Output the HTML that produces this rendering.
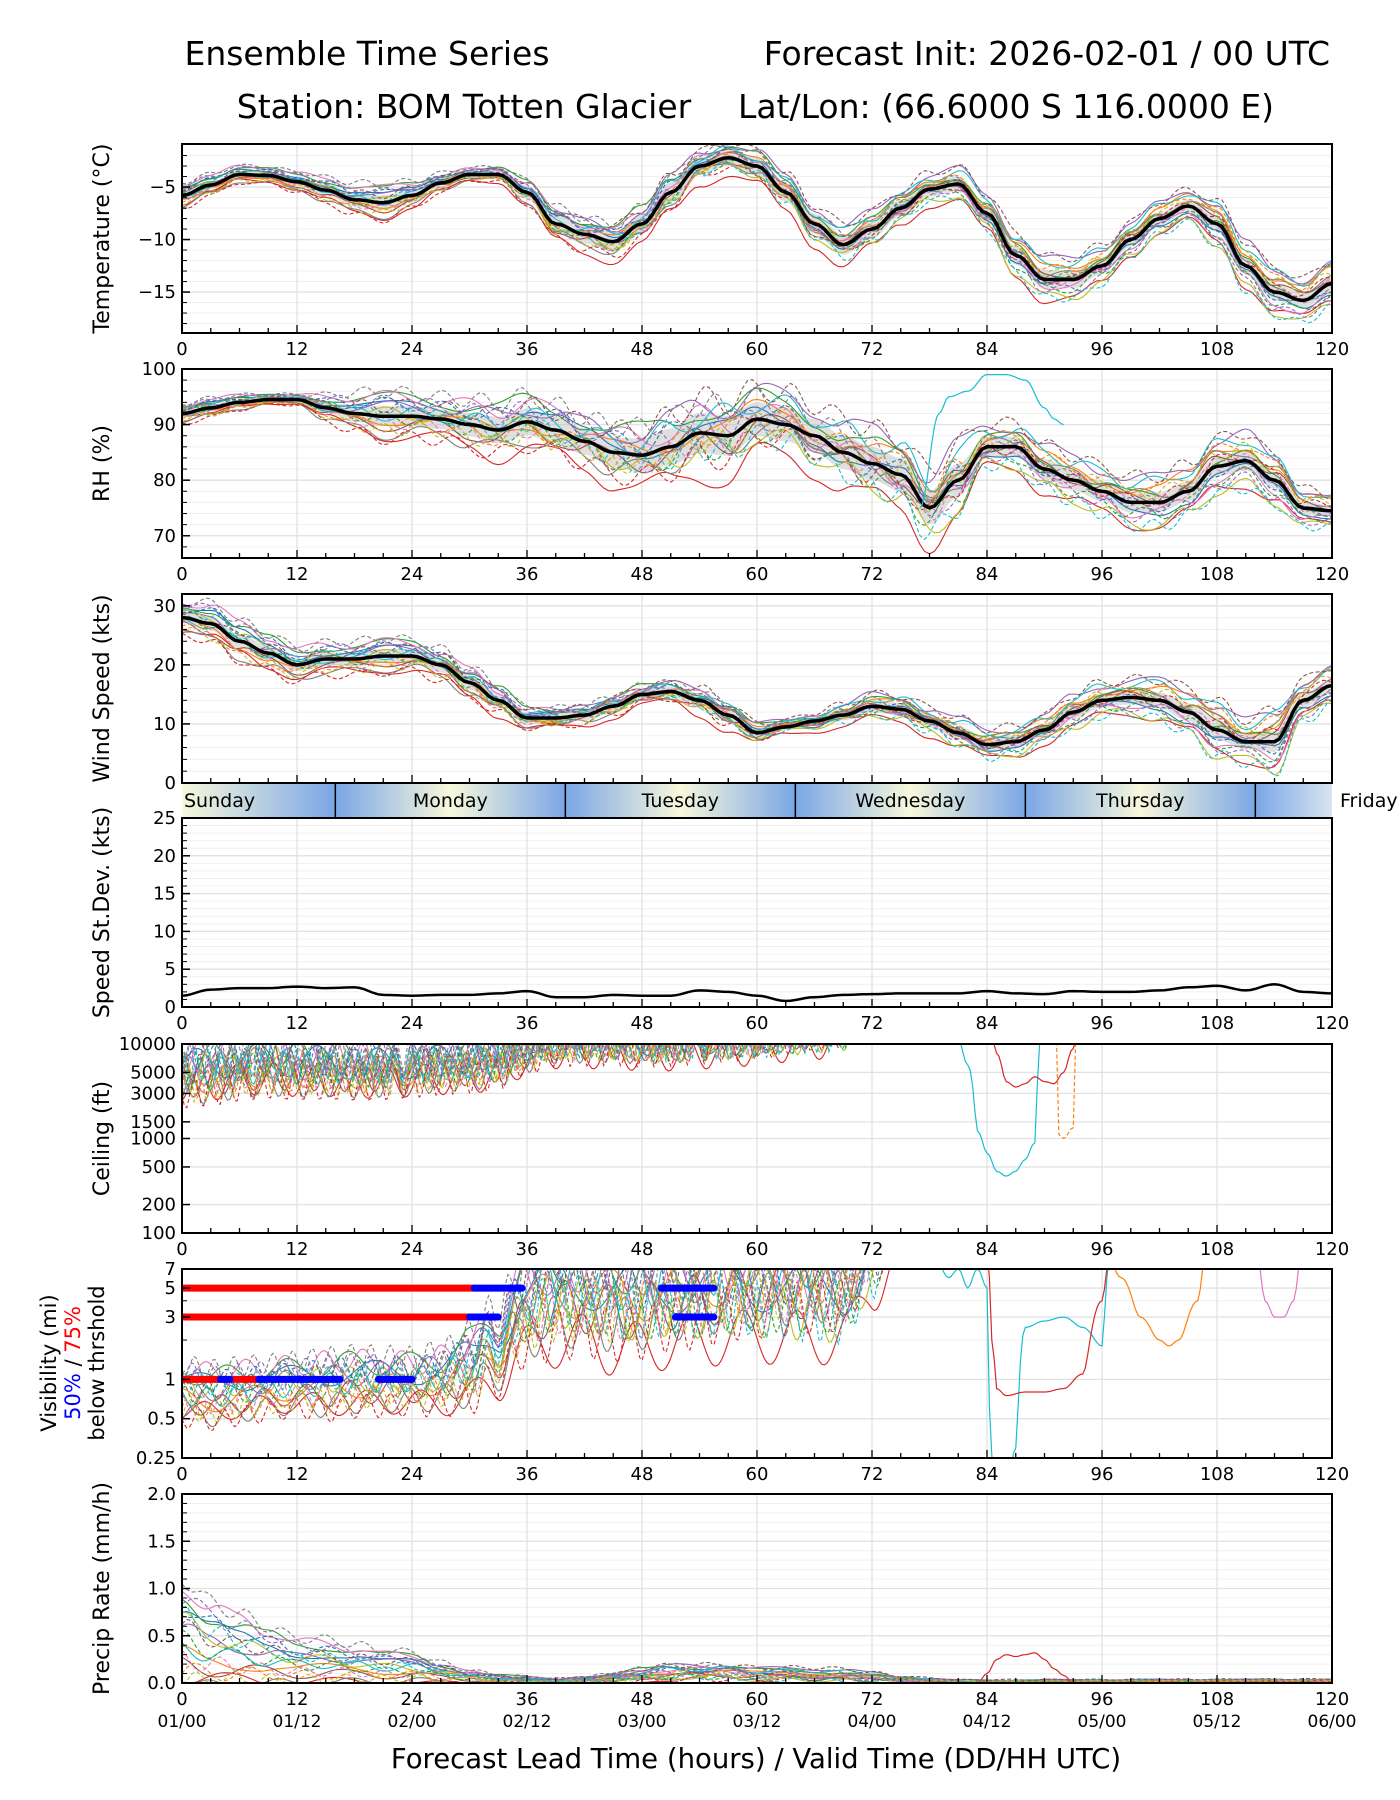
<!DOCTYPE html>
<html><head><meta charset="utf-8"><style>
body{margin:0;background:#fff;}
svg{display:block;font-family:"DejaVu Sans","Liberation Sans",sans-serif;}
</style></head><body>
<svg id="c" width="1400" height="1800" viewBox="0 0 1400 1800">
<defs>
<linearGradient id="seg" x1="0" x2="1" y1="0" y2="0"><stop offset="0" stop-color="#7aa6e6"/><stop offset="0.5" stop-color="#f8f8dc"/><stop offset="1" stop-color="#7aa6e6"/></linearGradient>
<linearGradient id="seg0" x1="0" x2="1" y1="0" y2="0"><stop offset="0" stop-color="#f8f8dc"/><stop offset="1" stop-color="#7aa6e6"/></linearGradient>
<linearGradient id="segL" x1="0" x2="1" y1="0" y2="0"><stop offset="0" stop-color="#7aa6e6"/><stop offset="1" stop-color="#d8e4f0"/></linearGradient>
</defs>
<text x="367" y="65" font-size="33" text-anchor="middle">Ensemble Time Series</text>
<text x="1330" y="65" font-size="33" text-anchor="end">Forecast Init: 2026-02-01 / 00 UTC</text>
<text x="464" y="118" font-size="33" text-anchor="middle">Station: BOM Totten Glacier</text>
<text x="1006" y="118" font-size="33" text-anchor="middle">Lat/Lon: (66.6000 S 116.0000 E)</text>
<text x="756" y="1768" font-size="27.5" text-anchor="middle">Forecast Lead Time (hours) / Valid Time (DD/HH UTC)</text>
</svg>
<script>
// ---- data (3-hourly, 0..120 h) ----
const hours3 = [0,3,6,9,12,15,18,21,24,27,30,33,36,39,42,45,48,51,54,57,60,63,66,69,72,75,78,81,84,87,90,93,96,99,102,105,108,111,114,117,120];
const tempMean = [-5.8,-4.8,-3.8,-3.9,-4.5,-5.3,-6.2,-6.5,-5.8,-4.6,-3.8,-3.8,-5.5,-8.5,-9.5,-10.2,-8.5,-5.5,-3.0,-2.2,-3.0,-5.5,-8.5,-10.5,-9.0,-7.0,-5.2,-4.7,-7.5,-11.5,-13.8,-13.8,-12.5,-10.0,-8.0,-6.8,-8.5,-12.5,-15.0,-15.8,-14.2];
const tempSpread = [0.7,0.6,0.5,0.5,0.6,0.8,1.1,1.2,1.0,0.7,0.5,0.6,1.0,1.4,1.5,1.5,1.6,1.6,1.4,1.3,1.4,1.5,1.6,1.6,1.4,1.3,1.2,1.2,1.4,1.5,1.5,1.4,1.3,1.1,1.0,1.0,1.3,1.4,1.3,1.2,1.2];
const rhMean = [92,93,94,94.5,94.5,93,92,91.5,91.5,91,90,89,90.5,89,87,85,84.5,86,88.5,88,91,90,88,85,83,81,75,80,86,86,82,80,78,76,76,78,82.5,83.5,80,75,74.5];
const rhSpread = [1.0,1.0,0.8,0.6,0.6,1.5,2.5,3,3,3,3.5,4,4,4,4,4.5,5,5.5,6,6,5,5,5,5,5,5,5,5,3,3,3,3,3,3,3,3,3,3,2.5,2,1.5];
const windMean = [28,27,24,22,20,21,21,21.5,21.5,20,17,14,11,11,11.5,13,15,15.5,14,11.5,8.5,9.5,10.5,11.5,13,12.5,10.5,8.5,6.5,7,9,12,14,14.5,14,12,9,7,7,14,16.5];
const windSpread = [1.5,2,2,2,1.8,1.8,2,2,2,2,2,2,1.5,1.5,1.5,1.5,1.5,1.5,2,2,1.5,1,1.3,1.5,1.7,1.8,1.8,1.8,2,1.8,1.7,2,2,2,2.2,2.5,2.8,2.2,3,2,1.8];
const windStd = [1.5,2.3,2.5,2.5,2.7,2.5,2.6,1.6,1.5,1.6,1.6,1.8,2.1,1.3,1.3,1.6,1.5,1.5,2.2,2.0,1.5,0.8,1.3,1.6,1.7,1.8,1.8,1.8,2.1,1.8,1.7,2.1,2.0,2.0,2.2,2.6,2.8,2.2,3.0,2.0,1.8];
const ceilMean = [4800,5000,5500,5800,5500,5500,5300,5300,5500,5800,6000,6500,9000,11000,11000,11000,10500,10500,11000,11500,12000,13000,14000,15000,30000,40000,40000,40000,40000,40000,40000,40000,40000,40000,40000,40000,40000,40000,40000,40000,40000];
const visMean = [0.8,0.75,0.8,0.85,0.9,0.9,0.95,0.95,0.95,1.0,1.2,1.8,3.5,4.5,4.5,4.0,4.0,4.5,4.5,5,5,5,5,5,9,14,16,16,16,16,16,16,16,16,16,16,16,16,16,16,16];
const visSpread = [0.3,0.3,0.3,0.3,0.3,0.35,0.35,0.35,0.35,0.4,0.5,0.6,0.7,0.8,0.8,0.8,0.8,0.8,0.8,0.8,0.8,0.8,0.8,0.8,0.6,0.4,0.3,0.3,0.3,0.3,0.3,0.3,0.3,0.3,0.3,0.3,0.3,0.3,0.3,0.3,0.3];
const precipMean = [0.45,0.35,0.3,0.25,0.2,0.2,0.18,0.15,0.15,0.1,0.06,0.04,0.03,0.02,0.03,0.05,0.08,0.1,0.1,0.1,0.08,0.08,0.08,0.07,0.05,0.03,0.02,0.01,0.01,0.01,0.01,0.01,0.01,0.01,0.01,0.01,0.01,0.01,0.01,0.01,0.01];
// special outlier members [hour, value]
const ceilCyanH = [80,82,83,84,85,86,87,88,89,90], ceilCyanV = [20000,6000,1200,700,450,400,450,600,900,20000];
const ceilRedH = [84,85,86,87,88,89,90,91,92,93,94], ceilRedV = [20000,8000,4000,3500,3800,4500,4000,3800,5000,9000,20000];
const ceilOrH = [91,91.5,92,93,93.5], ceilOrV = [20000,1100,1000,1300,20000];
const visCyanH = [78,80,81,82,83,84,84.3,85,86,87,88,90,92,94,96,97], visCyanV = [10,6,7,5,7,5,0.3,0.1,0.1,0.3,2.5,2.8,3,2.5,1.8,10];
const visRedH = [84,84.5,85,86,88,90,92,94,96,97], visRedV = [10,2,0.85,0.75,0.8,0.8,0.85,1.1,4,10];
const visOrH = [96,98,100,102,103,104,106,107], visOrV = [10,6,3,2,1.8,2,4,10];
const visPinkH = [112,113,114,115,116,117], visPinkV = [10,4,3,3,4,10];
const precipRedH = [83,84,85,86,87,88,89,90,91,92,93], precipRedV = [0,0.1,0.25,0.3,0.28,0.3,0.32,0.25,0.15,0.08,0];
// member coefficient pairs (start, end)
const memA = [0.9,-0.5,1.4,-1.2,0.3,-0.8,1.8,-1.6,0.6,-0.2,1.1,-1.0,0.0,-1.9,1.5,0.4,-0.6,2.0,-1.3,0.8];
const memB = [-0.7,1.2,0.2,-1.5,1.8,0.5,-1.1,0.9,-1.8,1.6,-0.4,1.3,-0.9,0.6,-1.4,2.0,0.1,-0.3,1.0,-2.0];
const tab = ['#1f77b4','#ff7f0e','#2ca02c','#d62728','#9467bd','#8c564b','#e377c2','#7f7f7f','#bcbd22','#17becf'];
const visRed5 = [0,30.5], visBlue5 = [[30.5,35.5],[50,55.5]];
const visRed3 = [0,30], visBlue3 = [[30,33],[51.5,55.5]];
const visRed1 = [[0,4],[5,8]], visBlue1 = [[4,5],[8,16.5],[20.5,24]];
const ticksX = [0,12,24,36,48,60,72,84,96,108,120];
const dateLabels = ['01/00','01/12','02/00','02/12','03/00','03/12','04/00','04/12','05/00','05/12','06/00'];
const days = ['Sunday','Monday','Tuesday','Wednesday','Thursday','Friday'];

// ---- helpers ----
const svg = document.getElementById('c');
const NS = 'http://www.w3.org/2000/svg';
const X0 = 182, X1 = 1332;
const X = h => X0 + (X1 - X0) * h / 120;
function el(tag, attrs, parent){const e=document.createElementNS(NS,tag);for(const k in attrs)e.setAttribute(k,attrs[k]);(parent||svg).appendChild(e);return e;}
function interp(xs, ys, t){ if(t<=xs[0])return ys[0]; for(let i=1;i<xs.length;i++){ if(t<=xs[i]){const f=(t-xs[i-1])/(xs[i]-xs[i-1]); const g=(1-Math.cos(Math.PI*f))/2; return ys[i-1]+(ys[i]-ys[i-1])*g;} } return ys[ys.length-1]; }
let clipN = 0;
function panel(name, top, h, yFn, ticks, tickLbl, minor, ylabel, noX){
  const bot = top + h;
  const g = el('g', {});
  
  
  const id = 'clip' + (clipN++);
  const cp = el('clipPath', {id}, g); el('rect', {x:X0, y:top, width:X1-X0, height:h}, cp);
  minor.forEach(v=>{ const y=yFn(v); el('line',{x1:X0,x2:X1,y1:y,y2:y,stroke:'#f0f0f0','stroke-width':1},g); });
  ticks.forEach(v=>{ const y=yFn(v); el('line',{x1:X0,x2:X1,y1:y,y2:y,stroke:'#e2e2e2','stroke-width':1.3},g); });
  ticksX.forEach(v=>{ el('line',{x1:X(v),x2:X(v),y1:top,y2:bot,stroke:'#e2e2e2','stroke-width':1.3},g); });
  const plot = el('g', {'clip-path':'url(#'+id+')'}, g);
  const ax = el('g', {}, g);
  el('rect',{x:X0,y:top,width:X1-X0,height:h,fill:'none',stroke:'#000','stroke-width':2},ax);
  ticks.forEach((v,i)=>{ const y=yFn(v); el('line',{x1:X0,x2:X0+8,y1:y,y2:y,stroke:'#000','stroke-width':1.5},ax);
    const t=el('text',{x:X0-6,y:y+6,'font-size':18,'text-anchor':'end'},ax); t.textContent=tickLbl[i];
    
     });
  minor.forEach(v=>{ const y=yFn(v); el('line',{x1:X0,x2:X0+5,y1:y,y2:y,stroke:'#000','stroke-width':1},ax); });
  for(let hh=0;hh<=120;hh+=3){ const x=X(hh); const L = hh%12===0?8:5; el('line',{x1:x,x2:x,y1:bot,y2:bot-L,stroke:'#000','stroke-width':1.3},ax); }
  if(!noX) ticksX.forEach(v=>{ const t=el('text',{x:X(v),y:bot+22,'font-size':18,'text-anchor':'middle'},ax); t.textContent=v;
    
     });
  if(ylabel){ const t=el('text',{x:0,y:0,'font-size':22,'text-anchor':'middle',transform:'translate('+(X0-73)+','+(top+h/2)+') rotate(-90)'},ax); t.textContent=ylabel;
    
     }
  return {plot, ax, top, bot};
}
function pathFrom(fn, yFn, t0, t1, step){ let d=''; for(let t=t0;t<=t1+1e-9;t+=step){ const v=fn(t); d+=(d?'L':'M')+X(t).toFixed(1)+','+yFn(v).toFixed(1);} return d; }
function ensemble(p, name, yFn, mean, spread, wig, opts){
  opts = opts||{};
  const freq = opts.freq||0.35, step = opts.step||0.5;
  const up = [], lo = [];
  for(let t=0;t<=120;t+=0.5){ const m=interp(hours3,mean,t), s=interp(hours3,spread,t); up.push(X(t)+','+yFn(opts.log?m*Math.exp(0.6*s):m+0.6*s)); lo.unshift(X(t)+','+yFn(opts.log?m*Math.exp(-0.6*s):Math.max(opts.min??-1e9,m-0.6*s))); }
  if(opts.band!==false){ const b=el('polygon',{points:up.concat(lo).join(' '),fill:'#bbb','fill-opacity':0.45},p.plot);
    
     }
  memA.forEach((a,i)=>{ const b=memB[i];
    const fn = t=>{ const m=interp(hours3,mean,t), s=interp(hours3,spread,t); const k=a+(b-a)*t/120; const w=wig*s*Math.sin(t*(freq+0.07*i*freq/0.35)+i*1.7);
      let v = opts.log ? m*Math.exp(s*k*0.8+w) : m+s*k*0.9+w; if(opts.min!==undefined) v=Math.max(opts.min,v); return v; };
    const ln=el('path',{d:pathFrom(fn,yFn,0,120,step),fill:'none',stroke:tab[i%10],'stroke-width':1.1,'stroke-dasharray':i>=10?'4,2.5':'none'},p.plot);
    
    
  });
  if(opts.meanLine!==false){ const m=el('path',{d:pathFrom(t=>interp(hours3,mean,t),yFn,0,120,0.5),fill:'none',stroke:'#000','stroke-width':3.5},p.plot);
    
     }
}
function special(p, name, yFn, hs, vs, color, dash){ const l=el('path',{d:pathFrom(t=>interp(hs,vs,t),yFn,hs[0],hs[hs.length-1],0.25),fill:'none',stroke:color,'stroke-width':1.2,'stroke-dasharray':dash?'4,2.5':'none'},p.plot);
  
   }
const lin = (top,h,a,b)=>v=>top+h-(v-a)/(b-a)*h;
const lg = (top,h,a,b)=>v=>top+h-Math.log(v/a)/Math.log(b/a)*h;
const rng=(a,b,s)=>{const r=[];for(let v=a;v<=b+1e-9;v+=s)r.push(+v.toFixed(3));return r;};

// Temperature
let y1=lin(144,189,-18.9,-0.9);
let p1=panel('temperature',144,189,y1,[-15,-10,-5],['\u221215','\u221210','\u22125'],rng(-18,-2,1),'Temperature (\u00b0C)');
ensemble(p1,'temperature',y1,tempMean,tempSpread,0.3);
// RH
let y2=lin(369,189,66,100);
let p2=panel('rh',369,189,y2,[70,80,90,100],['70','80','90','100'],rng(68,98,2),'RH (%)');
ensemble(p2,'rh',y2,rhMean,rhSpread,0.4);
special(p2,'rh-outlier-cyan',y2,[77,79,80,82,84,86,88,90,91,92],[75,92,95,96,99,99,98,93,91,90],'#17becf',false);
// Wind
let y3=lin(594,189,0,32);
let p3=panel('wind-speed',594,189,y3,[0,10,20,30],['0','10','20','30'],rng(2,30,2),'Wind Speed (kts)',true);
ensemble(p3,'wind-speed',y3,windMean,windSpread,0.4,{min:0});
// Day band
const bandG = el('g',{});


const seps=[0,16,40,64,88,112,120];
for(let i=0;i<6;i++){ const a=seps[i],b=seps[i+1]; el('rect',{x:X(a),y:784,width:X(b)-X(a),height:33,fill:i===0?'url(#seg0)':(i===5?'url(#segL)':'url(#seg)')},bandG);
  if(i>0&&i<6) el('line',{x1:X(a),x2:X(a),y1:784,y2:817,stroke:'#000','stroke-width':1.5},bandG); }
days.forEach((d,i)=>{ const cx = i===0?X(0)+2:(i===5?X(120)+8:X(seps[i]+12)); const t=el('text',{x:cx,y:807,'font-size':19,'text-anchor':(i===0||i===5)?'start':'middle'},bandG); t.textContent=d;
  
   });
// StDev
let y4=lin(818,189,0,25);
let p4=panel('speed-stdev',818,189,y4,[0,5,10,15,20,25],['0','5','10','15','20','25'],rng(1,24,1),'Speed St.Dev. (kts)');
const sd=el('path',{d:pathFrom(t=>interp(hours3,windStd,t),y4,0,120,0.5),fill:'none',stroke:'#000','stroke-width':2.5},p4.plot);


// Ceiling
let y5=lg(1044,189,100,10000);
let p5=panel('ceiling',1044,189,y5,[100,200,500,1000,1500,3000,5000,10000],['100','200','500','1000','1500','3000','5000','10000'],[],'Ceiling (ft)');
ensemble(p5,'ceiling',y5,ceilMean,hours3.map(()=>0.3),1.3,{log:true,band:false,meanLine:false,freq:1.0,step:0.25});
special(p5,'ceiling-outlier-cyan',y5,ceilCyanH,ceilCyanV,'#17becf',false);
special(p5,'ceiling-outlier-red',y5,ceilRedH,ceilRedV,'#d62728',false);
special(p5,'ceiling-outlier-orange',y5,ceilOrH,ceilOrV,'#ff7f0e',true);
// Visibility
let y6=lg(1269,189,0.25,7);
let p6=panel('visibility',1269,189,y6,[0.25,0.5,1,3,5,7],['0.25','0.5','1','3','5','7'],[2,4],null);
ensemble(p6,'visibility',y6,visMean,visSpread,0.6,{log:true,band:false,meanLine:false,freq:0.7,step:0.25});
special(p6,'visibility-outlier-cyan',y6,visCyanH,visCyanV,'#17becf',false);
special(p6,'visibility-outlier-red',y6,visRedH,visRedV,'#d62728',false);
special(p6,'visibility-outlier-orange',y6,visOrH,visOrV,'#ff7f0e',false);
special(p6,'visibility-outlier-pink',y6,visPinkH,visPinkV,'#e377c2',false);
function bar(v,a,b,c){ const l=el('line',{x1:X(a),x2:X(b),y1:y6(v),y2:y6(v),stroke:c,'stroke-width':7,'stroke-linecap':'round'},p6.plot);
  
   }
bar(5,visRed5[0],visRed5[1],'#ff0000'); visBlue5.forEach(s=>bar(5,s[0],s[1],'#0000ff'));
bar(3,visRed3[0],visRed3[1],'#ff0000'); visBlue3.forEach(s=>bar(3,s[0],s[1],'#0000ff'));
visRed1.forEach(s=>bar(1,s[0],s[1],'#ff0000')); visBlue1.forEach(s=>bar(1,s[0],s[1],'#0000ff'));
const vl=el('text',{x:0,y:0,'font-size':21,'text-anchor':'middle',transform:'translate(56,1363) rotate(-90)'},p6.ax);
vl.innerHTML='<tspan x="0" dy="0">Visibility (mi)</tspan><tspan x="0" dy="24"><tspan fill="#0000ff">50%</tspan> / <tspan fill="#ff0000">75%</tspan></tspan><tspan x="0" dy="24">below thrshold</tspan>';


// Precip
let y7=lin(1494,189,0,2);
let p7=panel('precip',1494,189,y7,[0,0.5,1,1.5,2],['0.0','0.5','1.0','1.5','2.0'],rng(0.1,1.9,0.1),'Precip Rate (mm/h)');
ensemble(p7,'precip',y7,precipMean,precipMean.map(v=>v*0.8+0.01),0.3,{min:0,band:false,meanLine:false});
special(p7,'precip-outlier-red',y7,precipRedH,precipRedV,'#d62728',false);
dateLabels.forEach((d,i)=>{ const t=el('text',{x:X(ticksX[i]),y:1727,'font-size':17,'text-anchor':'middle'}); t.textContent=d;
  
   });
</script>
</body></html>
